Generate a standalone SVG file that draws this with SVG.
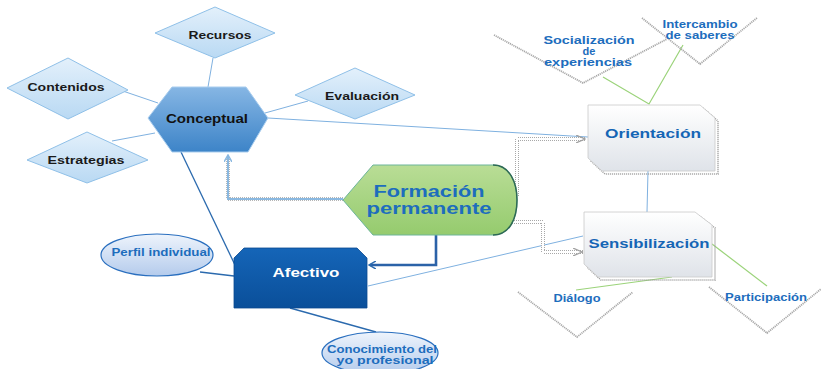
<svg xmlns="http://www.w3.org/2000/svg" width="821" height="369" viewBox="0 0 821 369">
<style>
.t{font-family:"Liberation Sans",Arial,sans-serif;font-weight:bold;text-anchor:middle}
.dk{fill:#1a1a1a;font-size:11px}
.bl{fill:#1d6dbd}
.dia{fill:url(#gDia);stroke:#8fc0e8;stroke-width:1}
.ell{fill:url(#gEll);stroke:#2a6fbf;stroke-width:1.2}
.box{fill:url(#gBox);stroke:#c9c9c9;stroke-width:0.8}
.sh{fill:none;stroke:#9a9a9a;stroke-width:1.6;stroke-dasharray:1 1}
.vee{fill:none;stroke:#a8a8a8;stroke-width:1.8;stroke-dasharray:1.2 0.8}
.thin{fill:none;stroke:#7fb1e0;stroke-width:1}
.dblue{fill:none;stroke:#2b6aae;stroke-width:1.3}
.green{fill:none;stroke:#9bd37a;stroke-width:1.2}
</style>
<defs>
<linearGradient id="gDia" x1="0" y1="0" x2="0" y2="1"><stop offset="0" stop-color="#e3f0fb"/><stop offset="1" stop-color="#b9d9f3"/></linearGradient>
<linearGradient id="gHex" x1="0" y1="0" x2="0" y2="1"><stop offset="0" stop-color="#86b6e4"/><stop offset="1" stop-color="#3d84c8"/></linearGradient>
<linearGradient id="gForm" x1="0" y1="0" x2="0" y2="1"><stop offset="0" stop-color="#b9dd96"/><stop offset="1" stop-color="#95cb6e"/></linearGradient>
<linearGradient id="gAf" x1="0" y1="0" x2="0" y2="1"><stop offset="0" stop-color="#1565b8"/><stop offset="1" stop-color="#0a4f9a"/></linearGradient>
<linearGradient id="gEll" x1="0" y1="0" x2="0" y2="1"><stop offset="0" stop-color="#eef4fc"/><stop offset="1" stop-color="#b4cbec"/></linearGradient>
<linearGradient id="gBox" x1="0" y1="0" x2="0" y2="1"><stop offset="0" stop-color="#ffffff"/><stop offset="1" stop-color="#dfe3e9"/></linearGradient>
<marker id="aDark" markerWidth="8" markerHeight="8" refX="6" refY="4" orient="auto" markerUnits="userSpaceOnUse"><path d="M0,0 L7,4 L0,8" fill="none" stroke="#2b6aae" stroke-width="1.5"/></marker>
<marker id="aLight" markerWidth="8" markerHeight="8" refX="6" refY="4" orient="auto" markerUnits="userSpaceOnUse"><path d="M0,0 L7,4 L0,8" fill="none" stroke="#8ab8e0" stroke-width="1.5"/></marker>
<marker id="aGrey" markerWidth="10" markerHeight="8" refX="8" refY="4" orient="auto" markerUnits="userSpaceOnUse"><path d="M0,0 L9,4 L0,8" fill="none" stroke="#a0a0a0" stroke-width="1.2"/></marker>
</defs>

<g id="connectors">
<line class="thin" x1="213" y1="58" x2="208" y2="87"/>
<line class="thin" x1="114" y1="88" x2="158" y2="103"/>
<line class="thin" x1="112" y1="141" x2="155" y2="133"/>
<line class="thin" x1="308" y1="101" x2="265" y2="113"/>
<line class="thin" x1="268" y1="118" x2="588" y2="137"/>
<line class="dblue" x1="181" y1="152" x2="235" y2="265"/>
<line class="dblue" x1="200" y1="272" x2="234" y2="276"/>
<line class="dblue" x1="290" y1="308" x2="376" y2="332"/>
<line class="thin" x1="368" y1="286" x2="583" y2="236"/>
<line class="thin" x1="648" y1="171" x2="647" y2="212"/>
<path d="M343,199 L228,199 L228,156" fill="none" stroke="#b5b5b5" stroke-width="4" stroke-dasharray="1 1"/>
<path d="M343,199 L228,199 L228,156" fill="none" stroke="#8ab8e0" stroke-width="2" marker-end="url(#aLight)"/>
<path d="M436,235 L436,265 L370,265" fill="none" stroke="#2b62a8" stroke-width="2.6" marker-end="url(#aDark)"/>
<path d="M517,196 L517,139 L586,139" fill="none" stroke="#a8a8a8" stroke-width="4" stroke-dasharray="1 1"/>
<path d="M517,196 L517,139 L584,139" fill="none" stroke="#ffffff" stroke-width="2" marker-end="url(#aGrey)"/>
<path d="M504,222 L543,222 L543,252 L583,252" fill="none" stroke="#a8a8a8" stroke-width="4" stroke-dasharray="1 1"/>
<path d="M504,222 L543,222 L543,252 L581,252" fill="none" stroke="#ffffff" stroke-width="2" marker-end="url(#aGrey)"/>
<polyline class="green" points="603,77 649,104 683,45"/>
<line class="green" x1="576" y1="290" x2="672" y2="277"/>
<line class="green" x1="712" y1="244" x2="767" y2="286"/>
</g>

<g id="recursos"><polygon class="dia" points="155,33 215,7 275,33 215,58"/><text class="t dk" x="220" y="39" textLength="63" lengthAdjust="spacingAndGlyphs">Recursos</text></g>
<g id="contenidos"><polygon class="dia" points="7,88 68,58 128,90 68,119"/><text class="t dk" x="66" y="91" textLength="77" lengthAdjust="spacingAndGlyphs">Contenidos</text></g>
<g id="evaluacion"><polygon class="dia" points="295,95 355,68 415,95 355,119"/><text class="t dk" x="362" y="100" textLength="74" lengthAdjust="spacingAndGlyphs">Evaluación</text></g>
<g id="estrategias"><polygon class="dia" points="27,160 87,132 148,160 87,183"/><text class="t dk" x="86" y="164" textLength="77" lengthAdjust="spacingAndGlyphs">Estrategias</text></g>

<g id="conceptual"><polygon points="148,118 172,87 246,87 268,118 248,152 172,152" fill="url(#gHex)" stroke="#a9cdee" stroke-width="1"/><text class="t" x="207" y="123" font-size="13" fill="#111" textLength="82" lengthAdjust="spacingAndGlyphs">Conceptual</text></g>

<g id="formacion"><path d="M343,200 L373,165 L493,165 C510,165 517,183 517,200 C517,218 510,235 493,235 L373,235 Z" fill="url(#gForm)" stroke="#6cb59a" stroke-width="1"/><path d="M493,165 C510,165 517,183 517,200 C517,218 510,235 493,235" fill="none" stroke="#2e6a55" stroke-width="1.5"/><text class="t bl" x="429" y="197" font-size="16" textLength="111" lengthAdjust="spacingAndGlyphs">Formación</text><text class="t bl" x="429" y="214" font-size="16" textLength="125" lengthAdjust="spacingAndGlyphs">permanente</text></g>

<g id="afectivo"><polygon points="244,248 357,248 367,258 367,308 234,308 234,258" fill="url(#gAf)" stroke="#0a4a90" stroke-width="0.8"/><text class="t" x="306" y="277" font-size="13" fill="#ffffff" textLength="67" lengthAdjust="spacingAndGlyphs">Afectivo</text></g>

<g id="perfil"><ellipse class="ell" cx="157" cy="255" rx="56" ry="21"/><text class="t bl" x="161" y="256" font-size="10.5" textLength="99" lengthAdjust="spacingAndGlyphs">Perfil individual</text></g>

<g id="conocimiento"><ellipse class="ell" cx="380" cy="353" rx="58" ry="21"/><text class="t bl" x="382" y="353" font-size="10.5" textLength="110" lengthAdjust="spacingAndGlyphs">Conocimiento del</text><text class="t bl" x="385" y="364" font-size="10.5" textLength="97" lengthAdjust="spacingAndGlyphs">yo profesional</text></g>

<g id="orientacion"><polygon class="sh" points="591,108 703,108 718,121 718,174 605,174 591,161"/><polygon class="box" points="588,105 700,105 715,118 715,171 602,171 588,158"/><text class="t" x="653" y="138" font-size="13" fill="#1565b5" textLength="96" lengthAdjust="spacingAndGlyphs">Orientación</text></g>

<g id="sensibilizacion"><polygon class="sh" points="587,215 698,215 715,228 715,280 601,280 587,267"/><polygon class="box" points="584,212 695,212 712,225 712,277 598,277 584,264"/><text class="t" x="649" y="248" font-size="13" fill="#1565b5" textLength="121" lengthAdjust="spacingAndGlyphs">Sensibilización</text></g>

<g id="socializacion"><polyline class="vee" points="494,35 583,83 667,39"/><text class="t bl" x="589" y="44" font-size="11" textLength="91" lengthAdjust="spacingAndGlyphs">Socialización</text><text class="t bl" x="589" y="55" font-size="11">de</text><text class="t bl" x="588" y="66" font-size="11" textLength="88" lengthAdjust="spacingAndGlyphs">experiencias</text></g>

<g id="intercambio"><polyline class="vee" points="642,18 700,64 757,18"/><text class="t bl" x="700" y="28" font-size="10" textLength="75" lengthAdjust="spacingAndGlyphs">Intercambio</text><text class="t bl" x="700" y="39" font-size="10" textLength="69" lengthAdjust="spacingAndGlyphs">de saberes</text></g>

<g id="dialogo"><polyline class="vee" points="518,292 577,337 633,292"/><text class="t bl" x="577" y="302" font-size="10.5" textLength="47" lengthAdjust="spacingAndGlyphs">Diálogo</text></g>

<g id="participacion"><polyline class="vee" points="709,287 767,333 821,289"/><text class="t bl" x="766" y="301" font-size="10.5" textLength="82" lengthAdjust="spacingAndGlyphs">Participación</text></g>
</svg>
